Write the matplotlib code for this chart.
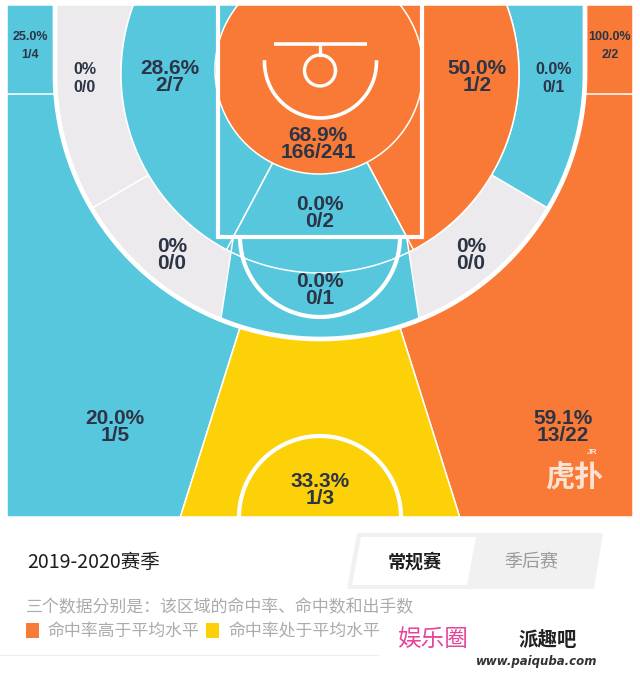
import numpy as np
import matplotlib
matplotlib.use("Agg")
import matplotlib.pyplot as plt
from matplotlib.patches import Polygon, Rectangle

plt.rcParams['font.family'] = ['Noto Sans CJK SC', 'DejaVu Sans']

# zone data (order: corners, short mid, long mid, paint, threes)
zones = ["left corner 3", "right corner 3",
         "left baseline long 2", "left short 2", "right short 2", "right baseline long 2",
         "restricted area", "paint",
         "left wing long 2", "right wing long 2", "center long 2",
         "left wing 3", "right wing 3", "top 3"]
made = [1, 2, 0, 2, 1, 0, 166, 0, 0, 0, 0, 1, 13, 1]
attempts = [4, 2, 0, 7, 2, 1, 241, 2, 0, 0, 1, 5, 22, 3]
level = ["below", "above", "none", "below", "above", "below", "above", "below",
         "none", "none", "below", "below", "above", "avg"]

season = "2019-2020赛季"
tabs = ["常规赛", "季后赛"]
note = "三个数据分别是：该区域的命中率、命中数和出手数"
legend_labels = ["命中率高于平均水平", "命中率处于平均水平"]

colors = {"above": "#F97A37", "avg": "#FDD108", "below": "#57C7DE", "none": "#ECEAEC"}
text_c = "#2C3446"

# court geometry (pixels, y down)
X0, X1, Y0, Y1 = 7, 633, 5, 517
CX, CY = 320, 74
R2, R3 = 199, 265
RA_C, R1 = (319, 70), 104
PAINT_L, PAINT_R, PAINT_B = 218, 422, 237
CORNER_Y = 94
A_BASE, A_PAINT, A_MID, A_THREE = 30.5, 28, 22, 17.5


def arc(c, r, a0, a1, n=150):
    t = np.radians(np.linspace(a0, a1, n))
    return np.column_stack([c[0] + r * np.cos(t), c[1] + r * np.sin(t)])


def pts(*parts):
    return np.vstack([np.atleast_2d(p) for p in parts])


C = (CX, CY)
a_top = np.degrees(np.arcsin((Y0 - CY) / R2))
x_r2 = np.sqrt(R2 ** 2 - (CY - Y0) ** 2)
pl = CX - (PAINT_B - CY) * np.tan(np.radians(A_PAINT))
pr = 2 * CX - pl
t_off = (Y1 - CY) * np.tan(np.radians(A_THREE))
a_mid = 90 + A_MID

shapes = {
    "left corner 3": pts((X0, Y0), (CX - R3, Y0), (CX - R3, CORNER_Y), (X0, CORNER_Y)),
    "right corner 3": pts((CX + R3, Y0), (X1, Y0), (X1, CORNER_Y), (CX + R3, CORNER_Y)),
    "left wing 3": pts((X0, CORNER_Y), (X0, Y1), (CX - t_off, Y1), C),
    "right wing 3": pts((X1, CORNER_Y), (X1, Y1), (CX + t_off, Y1), C),
    "top 3": pts(C, (CX - t_off, Y1), (CX + t_off, Y1)),
    "left baseline long 2": pts(arc(C, R3, 180 - A_BASE, 180), (CX - R3, Y0), (CX - x_r2, Y0),
                                arc(C, R2, 180 - a_top, 180 - A_BASE)),
    "right baseline long 2": pts(arc(C, R3, A_BASE, 0), (CX + R3, Y0), (CX + x_r2, Y0),
                                 arc(C, R2, a_top, A_BASE)),
    "left wing long 2": pts(arc(C, R3, a_mid, 180 - A_BASE), arc(C, R2, 180 - A_BASE, a_mid)),
    "right wing long 2": pts(arc(C, R3, 180 - a_mid, A_BASE), arc(C, R2, A_BASE, 180 - a_mid)),
    "left short 2": pts((CX, Y0), (CX - x_r2, Y0), arc(C, R2, 180 - a_top, 90 + A_PAINT), C),
    "right short 2": pts((CX, Y0), (CX + x_r2, Y0), arc(C, R2, a_top, 90 - A_PAINT), C),
    "paint": pts(C, (pl, PAINT_B), (pr, PAINT_B)),
    "center long 2": pts((pl, PAINT_B), arc(C, R3, a_mid, 180 - a_mid), (pr, PAINT_B)),
}
ra = arc(RA_C, R1, 0, 360, 240)
ra[:, 1] = np.maximum(ra[:, 1], Y0)
shapes["restricted area"] = ra

draw_order = ["left wing 3", "right wing 3", "top 3", "left corner 3", "right corner 3",
              "left baseline long 2", "right baseline long 2", "left wing long 2",
              "right wing long 2", "left short 2", "right short 2", "paint",
              "center long 2", "restricted area"]

# label anchors and font sizes per zone
label_pos = {"left corner 3": (30, 46), "right corner 3": (610, 46),
             "left baseline long 2": (85, 79), "right baseline long 2": (554, 79),
             "left short 2": (170, 77), "right short 2": (477, 77),
             "restricted area": (318, 144), "paint": (320, 213),
             "left wing long 2": (172, 255), "right wing long 2": (471, 255),
             "center long 2": (320, 290), "left wing 3": (115, 427),
             "right wing 3": (563, 427), "top 3": (320, 490)}
label_size = {"left corner 3": 9, "right corner 3": 9,
              "left baseline long 2": 11.5, "right baseline long 2": 11.5}

fig = plt.figure(figsize=(6.4, 6.9), dpi=100)
ax = fig.add_axes([0, 0, 1, 1])
ax.set_xlim(0, 640)
ax.set_ylim(690, 0)
ax.axis("off")

for z in draw_order:
    i = zones.index(z)
    ax.add_patch(Polygon(shapes[z], closed=True, facecolor=colors[level[i]],
                         edgecolor="white", linewidth=1.1))

W = "white"
# thin R2 arc through the centre zone
r2c = arc(C, R2, 63.5, 116.5)
ax.plot(r2c[:, 0], r2c[:, 1], color=W, lw=1.1)
# three point line
three = pts((CX - R3, Y0), (CX - R3, CY), arc(C, R3, 180, 0), (CX + R3, Y0))
ax.plot(three[:, 0], three[:, 1], color=W, lw=3.4, solid_capstyle="butt")
# paint outline
ax.plot([PAINT_L, PAINT_L, PAINT_R, PAINT_R], [Y0, PAINT_B, PAINT_B, Y0], color=W, lw=3,
        solid_joinstyle="miter")
ft = arc((CX, PAINT_B), 80, 0, 180)
ax.plot(ft[:, 0], ft[:, 1], color=W, lw=3)
hc = arc((CX, Y1), 81, 180, 360)
ax.plot(hc[:, 0], hc[:, 1], color=W, lw=3)
# basket
ax.plot([274, 367], [44, 44], color=W, lw=2.6, solid_capstyle="butt")
ax.plot([320, 320], [44, 55], color=W, lw=2.4)
hoop = arc((320, 70.5), 15.5, 0, 360)
ax.plot(hoop[:, 0], hoop[:, 1], color=W, lw=2.4)
rarc = arc((320.5, 62), 56, 0, 180)
ax.plot(rarc[:, 0], rarc[:, 1], color=W, lw=2.6)

# zone labels
for z in zones:
    i = zones.index(z)
    pct = f"{made[i] / attempts[i] * 100:.1f}%" if attempts[i] else "0%"
    fs = label_size.get(z, 15)
    ls = {9: 1.75, 11.5: 1.25}.get(fs, 0.92)
    ax.text(*label_pos[z], f"{pct}\n{made[i]}/{attempts[i]}", ha="center", va="center",
            fontsize=fs, fontweight="bold", color=text_c, linespacing=ls,
            family=["Liberation Sans", "DejaVu Sans"])

# hupu watermark
ax.text(574, 478, "虎扑", ha="center", va="center", fontsize=21, fontweight="bold",
        color="#FCE3D6")
ax.text(592, 453, "JR", ha="center", va="center", fontsize=6, fontweight="bold",
        color="#FCE3D6", family=["Liberation Sans"])

# bottom panel
ax.text(27, 562, season, ha="left", va="center", fontsize=14, color="#1E1E1E")
ax.add_patch(Polygon([(357, 533), (603, 533), (594, 589), (347, 589)], closed=True,
                     facecolor="#F1F1F1", edgecolor="none"))
ax.add_patch(Polygon([(361, 537), (476, 537), (467, 585), (352, 585)], closed=True,
                     facecolor="white", edgecolor="none"))
ax.text(415, 562, tabs[0], ha="center", va="center", fontsize=13, fontweight="bold",
        color="#1E1E1E")
ax.text(531, 562, tabs[1], ha="center", va="center", fontsize=13, color="#9A9A9A")
ax.text(26, 607, note, ha="left", va="center", fontsize=12.2, color="#ABABAB")
ax.add_patch(Rectangle((26, 623), 13, 15, facecolor=colors["above"], edgecolor="none"))
ax.text(47, 631, legend_labels[0], ha="left", va="center", fontsize=12.2, color="#ABABAB")
ax.add_patch(Rectangle((206, 623), 13, 15, facecolor=colors["avg"], edgecolor="none"))
ax.text(228, 631, legend_labels[1], ha="left", va="center", fontsize=12.2, color="#ABABAB")
ax.plot([0, 378], [655, 655], color="#EEEEEE", lw=0.8)

# site watermark
ax.add_patch(Rectangle((378, 613), 262, 77, facecolor="white", edgecolor="none"))
ax.text(432, 640, "娱乐圈", ha="center", va="center", fontsize=17, color="#E8459A",
        fontstyle="italic")
ax.text(548, 640, "派趣吧", ha="center", va="center", fontsize=14, fontweight="bold",
        color="#222222")
ax.text(537, 662, "www.paiquba.com", ha="center", va="center", fontsize=8.5,
        fontweight="bold", fontstyle="italic", color="#333333", family=["DejaVu Sans"])

fig.savefig("out.png", dpi=100, facecolor="white")
